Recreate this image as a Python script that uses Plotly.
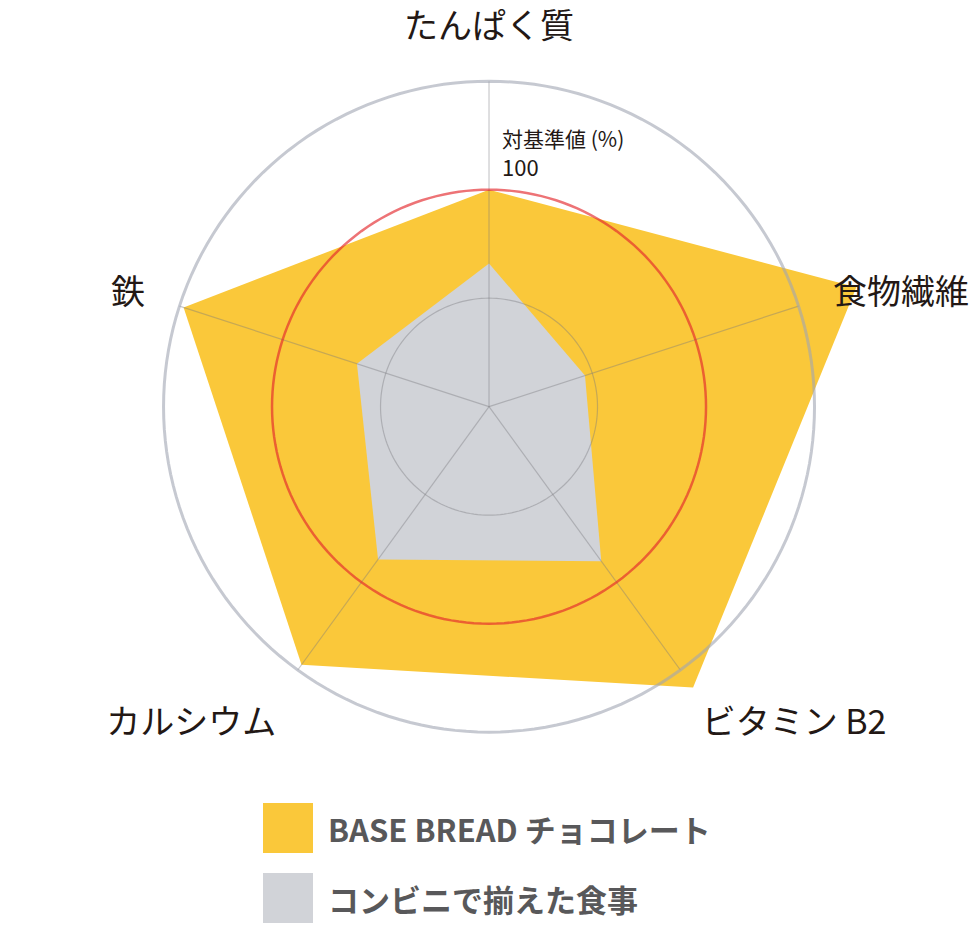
import plotly.graph_objects as go

categories = ["たんぱく質", "食物繊維", "ビタミン B2", "カルシウム", "鉄"]
angles = [0, 72, 144, 216, 288]
base_bread = [100, 178, 160, 147, 148]
konbini = [66, 46.5, 88, 87, 64]
series_names = ["BASE BREAD チョコレート", "コンビニで揃えた食事"]
reference_level = 100
grid_levels = [50, 150]
axis_max = 150
canvas_max = 180
axis_title = "対基準値 (%)"

YELLOW = "rgb(250,200,58)"
GRAY = "rgb(209,211,216)"
GRID = "rgba(120,120,125,0.4)"
OUTER = "rgba(160,165,178,0.6)"
FONT = "Noto Sans CJK JP"

fig = go.Figure()
fig.add_trace(go.Scatterpolar(
    r=base_bread + base_bread[:1], theta=angles + angles[:1],
    mode="lines", fill="toself", fillcolor=YELLOW,
    line=dict(width=0, color=YELLOW), cliponaxis=False,
    name=series_names[0], showlegend=False, hoverinfo="skip"))
fig.add_trace(go.Scatterpolar(
    r=konbini + konbini[:1], theta=angles + angles[:1],
    mode="lines", fill="toself", fillcolor=GRAY,
    line=dict(width=0, color=GRAY), cliponaxis=False,
    name=series_names[1], showlegend=False, hoverinfo="skip"))

# spokes drawn above the fills
for a in angles:
    fig.add_trace(go.Scatterpolar(
        r=[0, axis_max], theta=[a, a], mode="lines",
        line=dict(color=GRID, width=1.2), showlegend=False, hoverinfo="skip"))

circle_theta = list(range(0, 361, 2))
fig.add_trace(go.Scatterpolar(
    r=[grid_levels[0]] * len(circle_theta), theta=circle_theta, mode="lines",
    line=dict(color=GRID, width=1.2), showlegend=False, hoverinfo="skip"))
fig.add_trace(go.Scatterpolar(
    r=[grid_levels[1]] * len(circle_theta), theta=circle_theta, mode="lines",
    line=dict(color=OUTER, width=3), showlegend=False, hoverinfo="skip"))
fig.add_trace(go.Scatterpolar(
    r=[reference_level] * len(circle_theta), theta=circle_theta,
    mode="lines", line=dict(color="rgba(228,40,45,0.65)", width=2.5),
    showlegend=False, hoverinfo="skip"))

# invisible anchor trace for the label polar
fig.add_trace(go.Scatterpolar(
    r=[0], theta=[0], mode="markers", marker=dict(opacity=0, size=1),
    showlegend=False, hoverinfo="skip", subplot="polar2"))

angular_common = dict(type="linear", thetaunit="degrees", direction="clockwise",
                      rotation=90, tickmode="array", tickvals=angles)

fig.update_layout(
    width=980, height=925,
    margin=dict(l=0, r=0, t=0, b=0),
    paper_bgcolor="white", plot_bgcolor="white",
    showlegend=False,
    font=dict(family=FONT, color="#231815"),
    polar=dict(
        domain=dict(x=[0.1004, 0.8976], y=[0.1381, 0.9826]),
        bgcolor="rgba(0,0,0,0)",
        radialaxis=dict(range=[0, canvas_max], showticklabels=False, showgrid=False,
                        showline=False, ticks="", angle=90),
        angularaxis=dict(**angular_common, showticklabels=False, ticks="",
                         showline=False, showgrid=False),
    ),
    polar2=dict(
        domain=dict(x=[0.1668, 0.8311], y=[0.2084, 0.9122]),
        bgcolor="rgba(0,0,0,0)",
        radialaxis=dict(range=[0, axis_max], showticklabels=False, showgrid=False,
                        showline=False, ticks="", angle=90),
        angularaxis=dict(**angular_common, ticktext=categories,
                         tickfont=dict(family=FONT, size=34, color="#231815"),
                         ticks="outside", ticklen=29, tickcolor="rgba(0,0,0,0)",
                         showline=False, showgrid=False),
    ),
)

fig.add_annotation(x=500 / 980, y=1 - 138 / 925, xref="paper", yref="paper",
                   text=axis_title, showarrow=False, xanchor="left", yanchor="middle",
                   font=dict(family=FONT, size=21, color="#231815"))
fig.add_annotation(x=500 / 980, y=1 - 166 / 925, xref="paper", yref="paper",
                   text=str(reference_level), showarrow=False, xanchor="left", yanchor="middle",
                   font=dict(family=FONT, size=22, color="#231815"))

# legend
for i, (nm, col) in enumerate(zip(series_names, [YELLOW, GRAY])):
    y0 = 803 + i * 70
    fig.add_shape(type="rect", xref="paper", yref="paper",
                  x0=263 / 980, x1=313 / 980, y0=1 - (y0 + 50) / 925, y1=1 - y0 / 925,
                  fillcolor=col, line=dict(width=0))
    fig.add_annotation(x=326 / 980, y=1 - (y0 + 25) / 925, xref="paper", yref="paper",
                       text="<b>" + nm + "</b>", showarrow=False, xanchor="left", yanchor="middle",
                       font=dict(family=FONT, size=31, color="#58585a"))

fig.write_html("out.html", config={"displayModeBar": False},
               post_script="document.body.style.margin='0';")
